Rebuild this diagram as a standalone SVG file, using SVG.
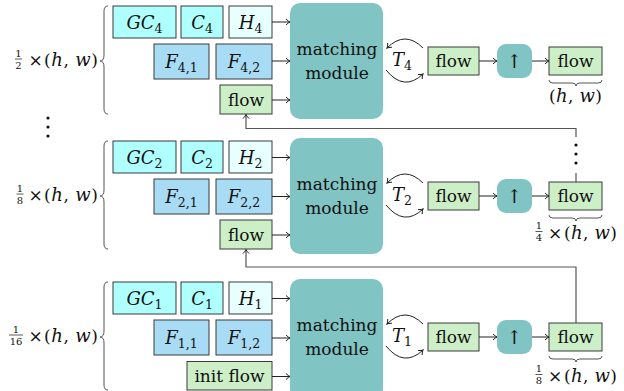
<svg xmlns="http://www.w3.org/2000/svg" width="624" height="391" viewBox="0 0 624 391">
<style>
.box{stroke:#3a3a3a;stroke-width:1}
.gc{fill:#b0ffff}
.h{fill:#e8ffff}
.f{fill:#a8dcf5}
.fl{fill:#cdefc7}
.mm{fill:#80c4c4}
.t{font-family:"DejaVu Serif",serif;font-size:17px;fill:#111;text-anchor:middle}
.s{text-anchor:start}
.i{font-style:italic;font-size:18px}
.sub{font-size:12.5px}
.fr{font-size:10px}
.up{font-size:19px}
.ln{fill:none;stroke:#222;stroke-width:1}
.fb{fill:none;stroke:#555;stroke-width:1.2}
.br{fill:none;stroke:#555;stroke-width:1}
.dot{fill:#111}
</style>
<defs>
<marker id="ah" viewBox="-5 -4 6 8" markerWidth="6" markerHeight="8" refX="0" refY="0" orient="auto" markerUnits="userSpaceOnUse">
<path d="M-4,-3 Q-1.5,-0.5 0,0 Q-1.5,0.5 -4,3" fill="none" stroke="#222" stroke-width="1"/>
</marker>
</defs>

<!-- Row 1 (1/2 scale) -->
<g id="label-r1">
<text class="t fr" x="18.5" y="56.5">1</text>
<line x1="15" y1="59" x2="22" y2="59" stroke="#111" stroke-width="0.7"/>
<text class="t fr" x="18.5" y="68.5">2</text>
<text class="t" x="35.5" y="66">×</text>
<text class="t s" x="44" y="66" textLength="54">(<tspan class="i">h</tspan>, <tspan class="i">w</tspan>)</text>
<path class="br" d="M108,6 Q104,6 104,11 V55 Q104,61 100,61 Q104,61 104,67 V109 Q104,114 108,114"/>
</g>
<g id="gc4"><rect class="box gc" x="113" y="6" width="63" height="32"/><text class="t" x="144.5" y="28.5"><tspan class="i">GC</tspan><tspan class="sub" dy="4">4</tspan></text></g>
<g id="c4"><rect class="box gc" x="181" y="6" width="42" height="32"/><text class="t" x="202" y="28.5"><tspan class="i">C</tspan><tspan class="sub" dy="4">4</tspan></text></g>
<g id="h4"><rect class="box h" x="229" y="6" width="43" height="32"/><text class="t" x="250.5" y="28.5"><tspan class="i">H</tspan><tspan class="sub" dy="4">4</tspan></text></g>
<g id="f41"><rect class="box f" x="154" y="44" width="55" height="35"/><text class="t" x="181.5" y="67.5"><tspan class="i">F</tspan><tspan class="sub" dy="4">4,1</tspan></text></g>
<g id="f42"><rect class="box f" x="216" y="44" width="56" height="35"/><text class="t" x="244" y="67.5"><tspan class="i">F</tspan><tspan class="sub" dy="4">4,2</tspan></text></g>
<g id="flowin4"><rect class="box fl" x="220" y="85" width="52" height="29"/><text class="t" x="246" y="105.5">flow</text></g>
<g id="mm4"><rect class="mm" x="290" y="3" width="93" height="116" rx="10"/><text class="t" x="337" y="55">matching</text><text class="t" x="337" y="79">module</text></g>
<g id="t4"><text class="t s" x="392" y="66"><tspan class="i">T</tspan><tspan class="sub" dy="4">4</tspan></text></g>
<g id="flow4"><rect class="box fl" x="428" y="47" width="51" height="28"/><text class="t" x="453.5" y="67">flow</text></g>
<g id="up4"><rect class="mm" x="497" y="44" width="35" height="34" rx="9"/><text class="t up" x="514.5" y="68">↑</text></g>
<g id="out4"><rect class="box fl" x="549" y="47" width="53" height="28"/><text class="t" x="575.5" y="67">flow</text>
<path class="br" d="M549,80 Q549,83 553,83 H572 Q576,83 576,86 Q576,83 580,83 H598 Q602,83 602,80"/>
<text class="t s" x="549" y="102" textLength="53">(<tspan class="i">h</tspan>, <tspan class="i">w</tspan>)</text></g>

<!-- Row 2 (1/8 scale) -->
<g id="label-r2">
<text class="t fr" x="20" y="191.5">1</text>
<line x1="16.5" y1="194" x2="23.5" y2="194" stroke="#111" stroke-width="0.7"/>
<text class="t fr" x="20" y="203.5">8</text>
<text class="t" x="35.5" y="201">×</text>
<text class="t s" x="44" y="201" textLength="54">(<tspan class="i">h</tspan>, <tspan class="i">w</tspan>)</text>
<path class="br" d="M108,141 Q104,141 104,146 V190 Q104,196 100,196 Q104,196 104,202 V244 Q104,249 108,249"/>
</g>
<g id="gc2"><rect class="box gc" x="113" y="141" width="63" height="32"/><text class="t" x="144.5" y="163.5"><tspan class="i">GC</tspan><tspan class="sub" dy="4">2</tspan></text></g>
<g id="c2"><rect class="box gc" x="181" y="141" width="42" height="32"/><text class="t" x="202" y="163.5"><tspan class="i">C</tspan><tspan class="sub" dy="4">2</tspan></text></g>
<g id="h2"><rect class="box h" x="229" y="141" width="43" height="32"/><text class="t" x="250.5" y="163.5"><tspan class="i">H</tspan><tspan class="sub" dy="4">2</tspan></text></g>
<g id="f21"><rect class="box f" x="154" y="179" width="55" height="35"/><text class="t" x="181.5" y="202.5"><tspan class="i">F</tspan><tspan class="sub" dy="4">2,1</tspan></text></g>
<g id="f22"><rect class="box f" x="216" y="179" width="56" height="35"/><text class="t" x="244" y="202.5"><tspan class="i">F</tspan><tspan class="sub" dy="4">2,2</tspan></text></g>
<g id="flowin2"><rect class="box fl" x="220" y="220" width="52" height="29"/><text class="t" x="246" y="240.5">flow</text></g>
<g id="mm2"><rect class="mm" x="290" y="138" width="93" height="116" rx="10"/><text class="t" x="337" y="190">matching</text><text class="t" x="337" y="214">module</text></g>
<g id="t2"><text class="t s" x="392" y="201"><tspan class="i">T</tspan><tspan class="sub" dy="4">2</tspan></text></g>
<g id="flow2"><rect class="box fl" x="428" y="182" width="51" height="28"/><text class="t" x="453.5" y="202">flow</text></g>
<g id="up2"><rect class="mm" x="497" y="179" width="35" height="34" rx="9"/><text class="t up" x="514.5" y="203">↑</text></g>
<g id="out2"><rect class="box fl" x="549" y="182" width="53" height="28"/><text class="t" x="575.5" y="202">flow</text>
<path class="br" d="M549,215 Q549,218 553,218 H572 Q576,218 576,221 Q576,218 580,218 H598 Q602,218 602,215"/>
<text class="t fr" x="539" y="229">1</text>
<line x1="535.5" y1="231.5" x2="542.5" y2="231.5" stroke="#111" stroke-width="0.7"/>
<text class="t fr" x="539" y="241">4</text>
<text class="t" x="555" y="239">×</text>
<text class="t s" x="564" y="239" textLength="53">(<tspan class="i">h</tspan>, <tspan class="i">w</tspan>)</text></g>

<!-- Row 3 (1/16 scale) -->
<g id="label-r3">
<text class="t fr" x="16" y="332.5">1</text>
<line x1="9" y1="335" x2="23" y2="335" stroke="#111" stroke-width="0.7"/>
<text class="t fr" x="16" y="344.5">16</text>
<text class="t" x="35.5" y="342">×</text>
<text class="t s" x="44" y="342" textLength="54">(<tspan class="i">h</tspan>, <tspan class="i">w</tspan>)</text>
<path class="br" d="M108,282 Q104,282 104,287 V331 Q104,337 100,337 Q104,337 104,343 V385 Q104,390 108,390"/>
</g>
<g id="gc1"><rect class="box gc" x="113" y="282" width="63" height="32"/><text class="t" x="144.5" y="304.5"><tspan class="i">GC</tspan><tspan class="sub" dy="4">1</tspan></text></g>
<g id="c1"><rect class="box gc" x="181" y="282" width="42" height="32"/><text class="t" x="202" y="304.5"><tspan class="i">C</tspan><tspan class="sub" dy="4">1</tspan></text></g>
<g id="h1"><rect class="box h" x="229" y="282" width="43" height="32"/><text class="t" x="250.5" y="304.5"><tspan class="i">H</tspan><tspan class="sub" dy="4">1</tspan></text></g>
<g id="f11"><rect class="box f" x="154" y="320" width="55" height="35"/><text class="t" x="181.5" y="343.5"><tspan class="i">F</tspan><tspan class="sub" dy="4">1,1</tspan></text></g>
<g id="f12"><rect class="box f" x="216" y="320" width="56" height="35"/><text class="t" x="244" y="343.5"><tspan class="i">F</tspan><tspan class="sub" dy="4">1,2</tspan></text></g>
<g id="initflow"><rect class="box fl" x="187" y="361.5" width="85" height="28.5"/><text class="t" x="229.5" y="381.5">init flow</text></g>
<g id="mm1"><rect class="mm" x="290" y="279" width="93" height="120" rx="10"/><text class="t" x="337" y="331">matching</text><text class="t" x="337" y="355">module</text></g>
<g id="t1"><text class="t s" x="392" y="342"><tspan class="i">T</tspan><tspan class="sub" dy="4">1</tspan></text></g>
<g id="flow1"><rect class="box fl" x="428" y="323" width="51" height="28"/><text class="t" x="453.5" y="343">flow</text></g>
<g id="up1"><rect class="mm" x="497" y="320" width="35" height="34" rx="9"/><text class="t up" x="514.5" y="344">↑</text></g>
<g id="out1"><rect class="box fl" x="549" y="323" width="53" height="28"/><text class="t" x="575.5" y="343">flow</text>
<path class="br" d="M549,356 Q549,359 553,359 H572 Q576,359 576,362 Q576,359 580,359 H598 Q602,359 602,356"/>
<text class="t fr" x="539" y="372">1</text>
<line x1="535.5" y1="374.5" x2="542.5" y2="374.5" stroke="#111" stroke-width="0.7"/>
<text class="t fr" x="539" y="384">8</text>
<text class="t" x="555" y="382">×</text>
<text class="t s" x="564" y="382" textLength="53">(<tspan class="i">h</tspan>, <tspan class="i">w</tspan>)</text></g>

<g id="ellipses">
<circle class="dot" cx="48" cy="118" r="1.6"/><circle class="dot" cx="48" cy="127" r="1.6"/><circle class="dot" cx="48" cy="136" r="1.6"/>
<circle class="dot" cx="576" cy="145" r="1.6"/><circle class="dot" cx="576" cy="154" r="1.6"/><circle class="dot" cx="576" cy="163" r="1.6"/>
</g>

<g id="connectors">
<path class="ln" d="M272,22 H290" marker-end="url(#ah)"/>
<path class="ln" d="M272,61 H290" marker-end="url(#ah)"/>
<path class="ln" d="M272,100 H290" marker-end="url(#ah)"/>
<path class="ln" d="M423,48 Q405,30 387,48" marker-end="url(#ah)"/>
<path class="ln" d="M386,70 Q404,92 423,74" marker-end="url(#ah)"/>
<path class="ln" d="M479,61 H497" marker-end="url(#ah)"/>
<path class="ln" d="M532,61 H549" marker-end="url(#ah)"/>

<path class="ln" d="M272,157.5 H290" marker-end="url(#ah)"/>
<path class="ln" d="M272,196.5 H290" marker-end="url(#ah)"/>
<path class="ln" d="M272,235 H290" marker-end="url(#ah)"/>
<path class="ln" d="M423,183 Q405,165 387,183" marker-end="url(#ah)"/>
<path class="ln" d="M386,205 Q404,227 423,209" marker-end="url(#ah)"/>
<path class="ln" d="M479,196 H497" marker-end="url(#ah)"/>
<path class="ln" d="M532,196 H549" marker-end="url(#ah)"/>

<path class="ln" d="M272,298.5 H290" marker-end="url(#ah)"/>
<path class="ln" d="M272,338 H290" marker-end="url(#ah)"/>
<path class="ln" d="M272,376.5 H290" marker-end="url(#ah)"/>
<path class="ln" d="M423,324 Q405,306 387,324" marker-end="url(#ah)"/>
<path class="ln" d="M386,346 Q404,368 423,350" marker-end="url(#ah)"/>
<path class="ln" d="M479,337 H497" marker-end="url(#ah)"/>
<path class="ln" d="M532,337 H549" marker-end="url(#ah)"/>

<path class="fb" d="M576,137 V128.5 H246 V114.5" marker-end="url(#ah)"/>
<path class="fb" d="M576,173 V182"/>
<path class="fb" d="M576,323 V267 H246 V249.5" marker-end="url(#ah)"/>
</g>
</svg>
